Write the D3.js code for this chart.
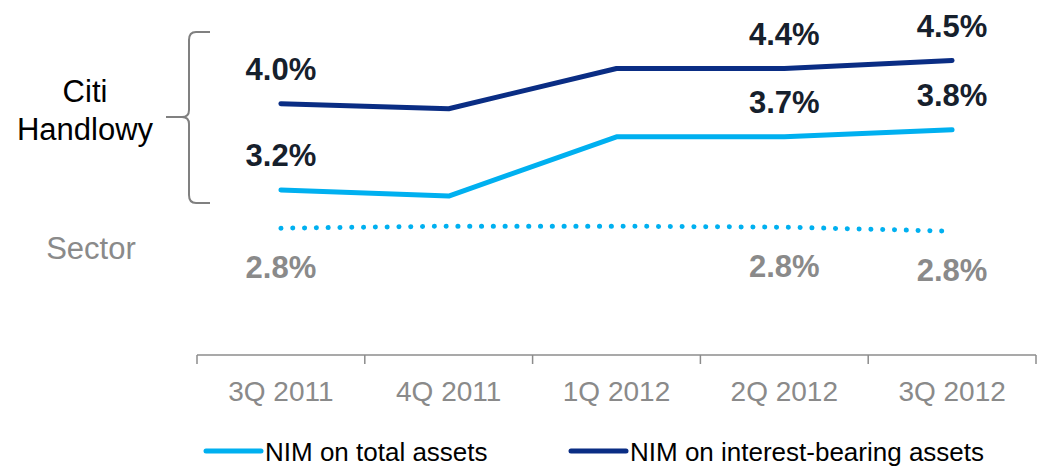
<!DOCTYPE html>
<html>
<head>
<meta charset="utf-8">
<script src="https://cdn.jsdelivr.net/npm/d3@7"></script>
<style>
  body { margin: 0; background: #fff; }
  text { font-family: Arial, "Liberation Sans", sans-serif; }
</style>
</head>
<body>
<div id="chart"></div>
<script>
// quarters and NIM values (%)
var quarters = ["3Q 2011", "4Q 2011", "1Q 2012", "2Q 2012", "3Q 2012"];
var nimInterest = [4.04, 3.99, 4.39, 4.39, 4.47];
var nimTotal = [3.18, 3.12, 3.71, 3.71, 3.78];
var nimSector = [2.80, 2.82, 2.82, 2.81, 2.77];
// which quarters get a value label
var labelled = ["3Q 2011", "2Q 2012", "3Q 2012"];
var legendNames = ["NIM on total assets", "NIM on interest-bearing assets"];

var width = 1045, height = 469;
var navy = "#0a2d84", cyan = "#00b0f0", grey = "#8a8a8a", ink = "#16202c";

var svg = d3.select("#chart").append("svg")
    .attr("width", width)
    .attr("height", height);

var x = d3.scaleBand().domain(quarters).range([197, 1036]);
var y = d3.scaleLinear().domain([2.5, 5]).range([258.3, 7.3]);
var fmt = d3.format(".1f");

// x axis
var axisY = 355;
svg.append("line")
    .attr("x1", 197).attr("x2", 1036)
    .attr("y1", axisY).attr("y2", axisY)
    .attr("stroke", "#8c8c8c").attr("stroke-width", 1.5);
var edges = quarters.map(d => x(d)).concat([x(quarters[quarters.length - 1]) + x.bandwidth()]);
svg.selectAll(".tick").data(edges).enter().append("line")
    .attr("x1", d => d).attr("x2", d => d)
    .attr("y1", axisY).attr("y2", axisY + 9)
    .attr("stroke", "#8c8c8c").attr("stroke-width", 1.5);
svg.selectAll(".qlabel").data(quarters).enter().append("text")
    .attr("x", d => x(d) + x.bandwidth() / 2)
    .attr("y", 401)
    .attr("text-anchor", "middle")
    .attr("font-size", 28)
    .attr("fill", grey)
    .text(d => d);

var cx = d => x(d) + x.bandwidth() / 2;
var line = d3.line().x((d, i) => cx(quarters[i])).y(d => y(d));

// lines
svg.append("path").datum(nimSector)
    .attr("d", line).attr("fill", "none")
    .attr("stroke", cyan).attr("stroke-width", 5)
    .attr("stroke-linecap", "round")
    .attr("stroke-dasharray", "0.1 11.7");
svg.append("path").datum(nimTotal)
    .attr("d", line).attr("fill", "none")
    .attr("stroke", cyan).attr("stroke-width", 5)
    .attr("stroke-linecap", "round").attr("stroke-linejoin", "round");
svg.append("path").datum(nimInterest)
    .attr("d", line).attr("fill", "none")
    .attr("stroke", navy).attr("stroke-width", 5)
    .attr("stroke-linecap", "round").attr("stroke-linejoin", "round");

// value labels
function addLabels(values, dy, color) {
    var pts = values.map((v, i) => ({q: quarters[i], v: v}))
        .filter(d => labelled.indexOf(d.q) >= 0);
    svg.append("g").selectAll("text").data(pts).enter().append("text")
        .attr("x", d => cx(d.q))
        .attr("y", d => y(d.v) + dy)
        .attr("text-anchor", "middle")
        .attr("font-size", 31)
        .attr("font-weight", "bold")
        .attr("fill", color)
        .text(d => fmt(d.v) + "%");
}
addLabels(nimInterest, -24, ink);
addLabels(nimTotal, -24, ink);
addLabels(nimSector, 50, grey);

// left side labels
svg.append("text").attr("x", 85).attr("y", 102)
    .attr("text-anchor", "middle").attr("font-size", 31).attr("fill", "#000")
    .text("Citi");
svg.append("text").attr("x", 85).attr("y", 140)
    .attr("text-anchor", "middle").attr("font-size", 31).attr("fill", "#000")
    .text("Handlowy");
svg.append("text").attr("x", 91).attr("y", 259)
    .attr("text-anchor", "middle").attr("font-size", 31).attr("fill", grey)
    .text("Sector");

// brace
svg.append("path")
    .attr("d", "M210,32 L196,32 Q189,32 189,40 L189,110 Q189,117 182,117 L166,117 L182,117 Q189,117 189,124 L189,195 Q189,203 196,203 L210,203")
    .attr("fill", "none").attr("stroke", "#808080").attr("stroke-width", 2);

// legend
var legend = [
    {name: legendNames[0], color: cyan, x: 206},
    {name: legendNames[1], color: navy, x: 571}
];
var lg = svg.append("g").selectAll("g").data(legend).enter().append("g");
lg.append("line")
    .attr("x1", d => d.x).attr("x2", d => d.x + 55)
    .attr("y1", 451).attr("y2", 451)
    .attr("stroke", d => d.color).attr("stroke-width", 5)
    .attr("stroke-linecap", "round");
lg.append("text")
    .attr("x", d => d.x + 59).attr("y", 461)
    .attr("font-size", 26).attr("fill", "#000")
    .text(d => d.name);
</script>
</body>
</html>
